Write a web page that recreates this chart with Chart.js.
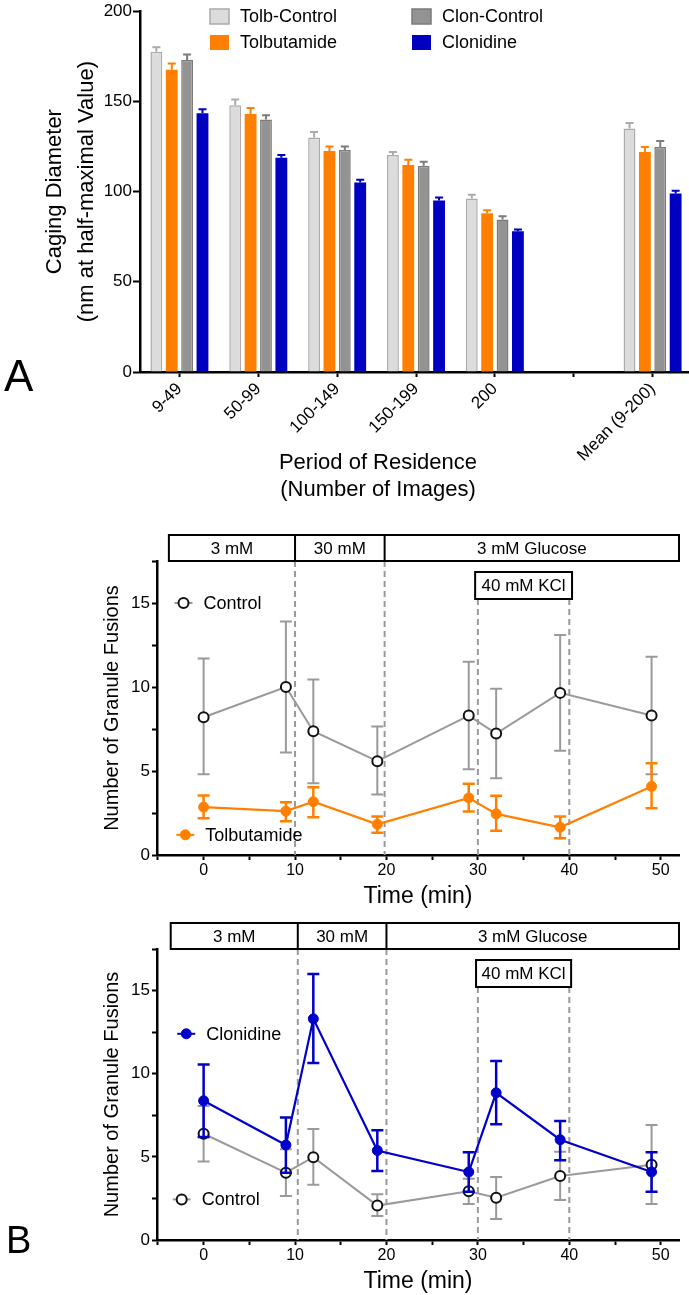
<!DOCTYPE html>
<html>
<head>
<meta charset="utf-8">
<script src="https://cdn.jsdelivr.net/npm/chart.js@4.4.1/dist/chart.umd.min.js"></script>
<style>
  body { margin: 0; background: #fff; width: 689px; height: 1295px; position: relative; overflow: hidden; }
  canvas { position: absolute; left: 0; }
  .panel { position: absolute; font-family: "Liberation Sans", Arial, sans-serif; line-height: 1; color: #000; }
</style>
</head>
<body>
<canvas id="chartA" width="692" height="510" style="top:0"></canvas>
<canvas id="chartB1" width="689" height="385" style="top:525px"></canvas>
<canvas id="chartB2" width="689" height="385" style="top:910px"></canvas>
<div class="panel" style="left:4px; top:354px; font-size:44px;">A</div>
<div class="panel" style="left:6px; top:1221px; font-size:38px;">B</div>
<script>
// panel A: caging diameter per residence period
const periods = ['9-49', '50-99', '100-149', '150-199', '200', '', 'Mean (9-200)'];
const tolbControl    = [177.5, 147.8, 130.0, 120.3, 96.2, null, 135.0];
const tolbControlSem = [2.5, 3.2, 3.0, 1.7, 2.1, null, 3.0];
const tolbutamide    = [167.6, 143.0, 122.5, 114.8, 88.0, null, 122.0];
const tolbutamideSem = [3.4, 3.4, 2.5, 2.8, 1.6, null, 2.7];
const clonControl    = [173.0, 140.0, 123.0, 114.3, 84.6, null, 124.7];
const clonControlSem = [3.0, 2.3, 2.0, 2.2, 1.7, null, 3.3];
const clonidine      = [143.4, 118.7, 105.0, 95.0, 78.0, null, 99.0];
const clonidineSem   = [2.2, 1.6, 1.6, 1.7, 1.0, null, 1.5];

// panel B: granule fusions over time
const times = [0, 9, 12, 19, 29, 32, 39, 49];
const tolbCtrlMean = [8.2, 10.0, 7.37, 5.58, 8.3, 7.23, 9.65, 8.3];
const tolbCtrlHi   = [11.7, 13.9, 10.45, 7.65, 11.5, 9.9, 13.1, 11.8];
const tolbCtrlLo   = [4.8, 6.1, 4.27, 3.6, 5.1, 4.57, 6.2, 4.8];
const tolbMean = [2.85, 2.61, 3.17, 1.83, 3.4, 2.45, 1.65, 4.08];
const tolbHi   = [3.54, 3.14, 4.04, 2.29, 4.24, 3.52, 2.29, 5.46];
const tolbLo   = [2.19, 2.01, 2.25, 1.32, 2.59, 1.44, 1.0, 2.79];
const clonMean = [8.37, 5.71, 13.3, 5.38, 4.09, 8.85, 6.03, 4.09];
const clonHi   = [10.55, 7.37, 16.0, 6.6, 5.28, 10.76, 7.16, 5.28];
const clonLo   = [6.2, 4.05, 10.64, 4.15, 2.9, 6.96, 4.8, 2.9];
const clonCtrlMean = [6.39, 4.05, 4.98, 2.07, 2.93, 2.54, 3.85, 4.52];
const clonCtrlHi   = [8.06, 5.46, 6.67, 2.75, 3.69, 3.79, 5.3, 6.92];
const clonCtrlLo   = [4.72, 2.64, 3.33, 1.45, 2.16, 1.27, 2.4, 2.16];

const phaseLabels = ['3 mM', '30 mM', '3 mM Glucose'];
const kclLabel = '40 mM KCl';

const FONT = '"Liberation Sans", Arial, sans-serif';
Chart.defaults.font.family = FONT;
Chart.defaults.color = '#000';

const ORANGE = '#ff8000';
const BLUE = '#0000c8';
const GREY_LINE = '#9a9a9a';

// upper error bars on the bars
const barErrors = {
  id: 'barErrors',
  afterDatasetsDraw(chart) {
    const ctx = chart.ctx;
    const y = chart.scales.y;
    chart.data.datasets.forEach((ds, di) => {
      const meta = chart.getDatasetMeta(di);
      ctx.save();
      ctx.strokeStyle = ds.errColor;
      ctx.lineWidth = 2;
      meta.data.forEach((bar, i) => {
        if (ds.data[i] == null) return;
        const top = y.getPixelForValue(ds.data[i] + ds.sem[i]);
        ctx.beginPath();
        ctx.moveTo(bar.x, bar.y);
        ctx.lineTo(bar.x, top);
        ctx.moveTo(bar.x - 4, top);
        ctx.lineTo(bar.x + 4, top);
        ctx.stroke();
      });
      ctx.restore();
    });
  }
};

// legend + x title of panel A
const panelAText = {
  id: 'panelAText',
  afterDraw(chart) {
    const ctx = chart.ctx;
    const spots = [[210, 9], [210, 35], [412, 9], [412, 35]];
    ctx.save();
    ctx.font = '18px ' + FONT;
    ctx.textBaseline = 'middle';
    chart.data.datasets.forEach((ds, i) => {
      const [bx, by] = spots[i];
      ctx.fillStyle = ds.backgroundColor;
      ctx.fillRect(bx, by, 19, 15);
      if (ds.borderWidth) {
        ctx.strokeStyle = ds.borderColor;
        ctx.lineWidth = 1.5;
        ctx.strokeRect(bx, by, 19, 15);
      }
      ctx.fillStyle = '#000';
      ctx.fillText(ds.label, bx + 30, by + 8);
    });
    ctx.font = '22px ' + FONT;
    ctx.textAlign = 'center';
    ctx.fillText('Period of Residence', 378, 463);
    ctx.fillText('(Number of Images)', 378, 490);
    ctx.restore();
  }
};

new Chart(document.getElementById('chartA'), {
  type: 'bar',
  data: {
    labels: periods,
    datasets: [
      { label: 'Tolb-Control', data: tolbControl, sem: tolbControlSem, backgroundColor: '#dcdcdc', borderColor: '#ababab', borderWidth: 1.5, errColor: '#ababab' },
      { label: 'Tolbutamide', data: tolbutamide, sem: tolbutamideSem, backgroundColor: ORANGE, borderWidth: 0, errColor: ORANGE },
      { label: 'Clon-Control', data: clonControl, sem: clonControlSem, backgroundColor: '#939393', borderColor: '#7b7b7b', borderWidth: 1.5, errColor: '#7b7b7b' },
      { label: 'Clonidine', data: clonidine, sem: clonidineSem, backgroundColor: '#0000c0', borderWidth: 0, errColor: '#0000c0' }
    ]
  },
  options: {
    responsive: false,
    animation: false,
    events: [],
    layout: { padding: { top: 0, right: 0, left: 0, bottom: 0 } },
    datasets: { bar: { barPercentage: 0.77, categoryPercentage: 0.78 } },
    scales: {
      x: {
        afterFit: s => { s.height = 138; },
        border: { color: '#000', width: 2.5 },
        grid: { offset: false, drawOnChartArea: false, color: '#000', tickLength: 5, tickWidth: 2 },
        ticks: { font: { size: 17 }, minRotation: 45, maxRotation: 45, autoSkip: false, padding: 2 }
      },
      y: {
        min: 0, max: 200,
        afterFit: s => { s.width = 140; },
        border: { color: '#000', width: 2.5 },
        grid: { drawOnChartArea: false, color: '#000', tickLength: 7, tickWidth: 2 },
        ticks: { stepSize: 50, font: { size: 17 }, padding: 1 },
        title: {
          display: true,
          text: ['Caging Diameter', '(nm at half-maximal Value)'],
          font: { size: 22, lineHeight: '32px' },
          padding: { top: 39, bottom: 0 }
        }
      }
    },
    plugins: { legend: { display: false }, tooltip: { enabled: false } }
  },
  plugins: [barErrors, panelAText]
});

// error bars under each line dataset
const pointErrors = {
  id: 'pointErrors',
  beforeDatasetDraw(chart, args) {
    const ds = chart.data.datasets[args.index];
    if (!ds.errHi) return;
    const ctx = chart.ctx;
    const y = chart.scales.y;
    ctx.save();
    ctx.strokeStyle = ds.errColor;
    ctx.lineWidth = ds.errWidth;
    args.meta.data.forEach((pt, i) => {
      const hi = y.getPixelForValue(ds.errHi[i]);
      const lo = y.getPixelForValue(ds.errLo[i]);
      ctx.beginPath();
      ctx.moveTo(pt.x, hi); ctx.lineTo(pt.x, lo);
      ctx.moveTo(pt.x - 6, hi); ctx.lineTo(pt.x + 6, hi);
      ctx.moveTo(pt.x - 6, lo); ctx.lineTo(pt.x + 6, lo);
      ctx.stroke();
    });
    ctx.restore();
  }
};

// glucose / KCl protocol boxes, dashed switch lines and series keys
const protocol = {
  id: 'protocol',
  beforeDatasetsDraw(chart, args, opts) {
    const { ctx, chartArea: a, scales: { x } } = chart;
    ctx.save();
    ctx.strokeStyle = '#9a9a9a';
    ctx.lineWidth = 2;
    ctx.setLineDash([6, 4]);
    opts.switches.forEach(t => {
      const px = x.getPixelForValue(t);
      ctx.beginPath(); ctx.moveTo(px, a.top); ctx.lineTo(px, a.bottom); ctx.stroke();
    });
    opts.kcl.forEach(t => {
      const px = x.getPixelForValue(t);
      ctx.beginPath(); ctx.moveTo(px, a.top + 38); ctx.lineTo(px, a.bottom); ctx.stroke();
    });
    ctx.restore();
  },
  afterDraw(chart, args, opts) {
    const { ctx, chartArea: a, scales: { x, y } } = chart;
    ctx.save();
    ctx.strokeStyle = '#000';
    ctx.lineWidth = 2;
    ctx.font = '17px ' + FONT;
    ctx.textAlign = 'center';
    ctx.textBaseline = 'middle';
    ctx.fillStyle = '#000';
    // phase box
    const edges = [x.getPixelForValue(opts.boxStart)].concat(opts.switches.map(t => x.getPixelForValue(t)), [a.right]);
    const top = a.top - 26;
    ctx.strokeRect(edges[0], top, edges[edges.length - 1] - edges[0], 26);
    for (let i = 1; i < edges.length - 1; i++) {
      ctx.beginPath(); ctx.moveTo(edges[i], top); ctx.lineTo(edges[i], a.top); ctx.stroke();
    }
    phaseLabels.forEach((t, i) => ctx.fillText(t, (edges[i] + edges[i + 1]) / 2, top + 14));
    // KCl box
    const k0 = x.getPixelForValue(opts.kclBox[0]), k1 = x.getPixelForValue(opts.kclBox[1]);
    ctx.fillStyle = '#fff';
    ctx.fillRect(k0, a.top + 11, k1 - k0, 27);
    ctx.strokeRect(k0, a.top + 11, k1 - k0, 27);
    ctx.fillStyle = '#000';
    ctx.fillText(kclLabel, (k0 + k1) / 2, a.top + 25);
    // series keys
    ctx.textAlign = 'left';
    ctx.font = '18px ' + FONT;
    opts.keys.forEach(k => {
      const ds = chart.data.datasets[k.ds];
      const mx = x.getPixelForValue(k.x), my = y.getPixelForValue(k.y);
      ctx.strokeStyle = ds.borderColor;
      ctx.lineWidth = 2;
      ctx.beginPath(); ctx.moveTo(mx - 9, my); ctx.lineTo(mx + 9, my); ctx.stroke();
      ctx.beginPath(); ctx.arc(mx, my, ds.pointRadius, 0, Math.PI * 2);
      ctx.fillStyle = ds.pointBackgroundColor;
      ctx.fill();
      ctx.strokeStyle = ds.pointBorderColor;
      ctx.lineWidth = ds.pointBorderWidth;
      ctx.stroke();
      ctx.fillStyle = '#000';
      ctx.fillText(ds.label, mx + 20, my + 1);
    });
    ctx.restore();
  }
};

function fusionScales() {
  return {
    x: {
      type: 'linear', min: -5.1, max: 52,
      afterFit: s => { s.height = 55; },
      border: { color: '#000', width: 2.5 },
      grid: { drawOnChartArea: false, color: '#000', tickLength: 5, tickWidth: 2 },
      ticks: { stepSize: 5, includeBounds: false, font: { size: 16 }, padding: 1, maxRotation: 0, autoSkip: false,
               callback: v => (v % 10 === 0 ? v : '') },
      title: { display: true, text: 'Time (min)', font: { size: 23 }, padding: 0 }
    },
    y: {
      min: 0, max: 17.5,
      afterFit: s => { s.width = 157; },
      border: { color: '#000', width: 2.5 },
      grid: { drawOnChartArea: false, color: '#000', tickLength: 5, tickWidth: 2 },
      ticks: { stepSize: 2.5, font: { size: 17 }, padding: 2, callback: v => (v % 5 === 0 ? v : '') },
      title: { display: true, text: 'Number of Granule Fusions', font: { size: 20 }, padding: { top: 100, bottom: 0 } }
    }
  };
}

function controlSeries(label, mean, hi, lo) {
  return {
    label: label, data: times.map((t, i) => ({ x: t, y: mean[i] })), errHi: hi, errLo: lo,
    borderColor: GREY_LINE, borderWidth: 2, errColor: GREY_LINE, errWidth: 2,
    pointRadius: 5, pointBackgroundColor: '#fff', pointBorderColor: '#111', pointBorderWidth: 2
  };
}

function drugSeries(label, mean, hi, lo, color) {
  return {
    label: label, data: times.map((t, i) => ({ x: t, y: mean[i] })), errHi: hi, errLo: lo,
    borderColor: color, borderWidth: 2.2, errColor: color, errWidth: 2.5,
    pointRadius: 5, pointBackgroundColor: color, pointBorderColor: color, pointBorderWidth: 1
  };
}

new Chart(document.getElementById('chartB1'), {
  type: 'line',
  data: {
    datasets: [
      drugSeries('Tolbutamide', tolbMean, tolbHi, tolbLo, ORANGE),
      controlSeries('Control', tolbCtrlMean, tolbCtrlHi, tolbCtrlLo)
    ]
  },
  options: {
    responsive: false,
    animation: false,
    events: [],
    layout: { padding: { top: 36, right: 10, left: 0, bottom: 0 } },
    scales: fusionScales(),
    plugins: {
      legend: { display: false }, tooltip: { enabled: false },
      protocol: { boxStart: -3.8, switches: [10, 19.8], kcl: [30, 40], kclBox: [29.7, 40.3],
                  keys: [{ ds: 1, x: -2.2, y: 15 }, { ds: 0, x: -2, y: 1.2 }] }
    }
  },
  plugins: [pointErrors, protocol]
});

new Chart(document.getElementById('chartB2'), {
  type: 'line',
  data: {
    datasets: [
      drugSeries('Clonidine', clonMean, clonHi, clonLo, BLUE),
      controlSeries('Control', clonCtrlMean, clonCtrlHi, clonCtrlLo)
    ]
  },
  options: {
    responsive: false,
    animation: false,
    events: [],
    layout: { padding: { top: 39, right: 10, left: 0, bottom: 0 } },
    scales: fusionScales(),
    plugins: {
      legend: { display: false }, tooltip: { enabled: false },
      protocol: { boxStart: -3.6, switches: [10.3, 20], kcl: [30, 40], kclBox: [29.8, 40.2],
                  keys: [{ ds: 0, x: -1.9, y: 12.4 }, { ds: 1, x: -2.4, y: 2.44 }] }
    }
  },
  plugins: [pointErrors, protocol]
});
</script>
</body>
</html>
